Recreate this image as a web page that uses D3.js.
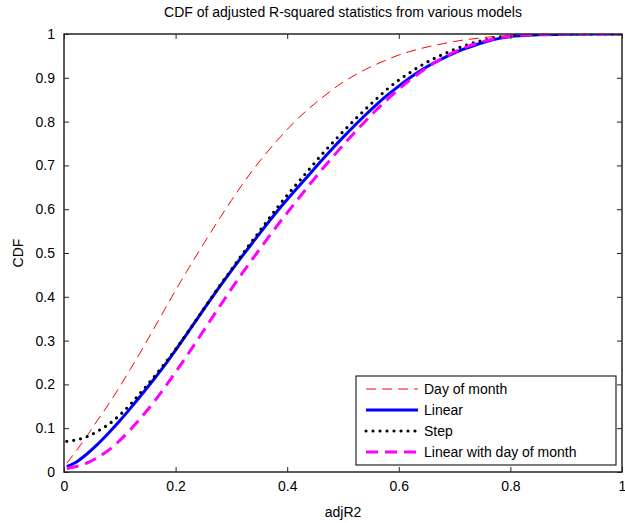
<!DOCTYPE html>
<html>
<head>
<meta charset="utf-8">
<script src="https://cdn.jsdelivr.net/npm/d3@7"></script>
<style>
	body { margin: 0; background: #fff; }
	text { font-family: 'Liberation Sans', Arial, sans-serif; }
</style>
</head>
<body>
<div id="chart"></div>
<script>
// Data
const adjR2 = [0.005, 0.02, 0.04, 0.06, 0.08, 0.1, 0.12, 0.14, 0.16, 0.18, 0.2, 0.22, 0.24, 0.26, 0.28, 0.3, 0.32, 0.34, 0.36, 0.38, 0.4, 0.42, 0.44, 0.46, 0.48, 0.5, 0.52, 0.54, 0.56, 0.58, 0.6, 0.62, 0.64, 0.66, 0.68, 0.7, 0.72, 0.74, 0.76, 0.78, 0.8, 0.85, 0.9, 0.95, 1];

const cdfDayOfMonth = [0.02, 0.045, 0.08, 0.118, 0.155, 0.195, 0.237, 0.28, 0.325, 0.37, 0.415, 0.458, 0.5, 0.541, 0.581, 0.62, 0.657, 0.692, 0.724, 0.754, 0.782, 0.808, 0.831, 0.852, 0.872, 0.89, 0.905, 0.919, 0.931, 0.942, 0.952, 0.96, 0.967, 0.973, 0.978, 0.983, 0.987, 0.99, 0.993, 0.995, 0.996, 0.998, 0.999, 1, 1];
const cdfLinear = [0.012, 0.021, 0.04, 0.063, 0.089, 0.117, 0.147, 0.178, 0.21, 0.243, 0.278, 0.315, 0.352, 0.389, 0.425, 0.46, 0.494, 0.527, 0.56, 0.592, 0.622, 0.651, 0.68, 0.709, 0.737, 0.764, 0.79, 0.815, 0.839, 0.861, 0.881, 0.9, 0.917, 0.932, 0.945, 0.957, 0.967, 0.976, 0.984, 0.99, 0.994, 0.998, 0.9995, 1, 1];
const cdfStep = [0.07, 0.073, 0.08, 0.093, 0.109, 0.13, 0.156, 0.185, 0.215, 0.247, 0.28, 0.316, 0.353, 0.39, 0.427, 0.462, 0.498, 0.532, 0.566, 0.6, 0.632, 0.662, 0.692, 0.722, 0.75, 0.777, 0.803, 0.828, 0.852, 0.875, 0.895, 0.912, 0.928, 0.942, 0.954, 0.965, 0.974, 0.982, 0.988, 0.993, 0.996, 0.999, 1, 1, 1];
const cdfLinearDay = [0.008, 0.012, 0.02, 0.033, 0.05, 0.072, 0.098, 0.127, 0.158, 0.192, 0.228, 0.265, 0.303, 0.342, 0.38, 0.418, 0.455, 0.49, 0.525, 0.559, 0.592, 0.624, 0.656, 0.687, 0.717, 0.746, 0.774, 0.801, 0.827, 0.851, 0.874, 0.895, 0.914, 0.931, 0.946, 0.959, 0.97, 0.979, 0.986, 0.991, 0.995, 0.999, 1, 1, 1];

const seriesNames = ['Day of month', 'Linear', 'Step', 'Linear with day of month'];
const xTicks = [0, 0.2, 0.4, 0.6, 0.8, 1];
const yTicks = [0, 0.1, 0.2, 0.3, 0.4, 0.5, 0.6, 0.7, 0.8, 0.9, 1];

const titleText = 'CDF of adjusted R-squared statistics from various models';
const xLabel = 'adjR2';
const yLabel = 'CDF';

// Chart dimensions and margins
const width = 625;
const height = 523;
const marginTop = 34;
const marginRight = 3;
const marginBottom = 51;
const marginLeft = 64;

const svg = d3.select('#chart')
	.append('svg')
	.attr('width', width)
	.attr('height', height)
	.attr('viewBox', [0, 0, width, height]);

const x = d3.scaleLinear().domain([0, 1]).range([marginLeft, width - marginRight]);
const y = d3.scaleLinear().domain([0, 1]).range([height - marginBottom, marginTop]);

// Line styles per series
const styles = [
	{ color: '#ff0000', width: 1, dash: '10,6', cap: 'butt' },
	{ color: '#0000ff', width: 3, dash: null, cap: 'butt' },
	{ color: '#000000', width: 3.2, dash: '0,7', cap: 'round' },
	{ color: '#ff00ff', width: 3, dash: '12,7', cap: 'butt' }
];
const allSeries = [cdfDayOfMonth, cdfLinear, cdfStep, cdfLinearDay];

svg.append('defs')
	.append('clipPath')
	.attr('id', 'plotclip')
	.append('rect')
	.attr('x', marginLeft)
	.attr('y', marginTop)
	.attr('width', width - marginLeft - marginRight)
	.attr('height', height - marginTop - marginBottom);

// Curves
const line = d3.line()
	.x((d) => x(d[0]))
	.y((d) => y(d[1]))
	.curve(d3.curveMonotoneX);

const plot = svg.append('g').attr('clip-path', 'url(#plotclip)');
allSeries.forEach(function (vals, i) {
	const s = styles[i];
	plot.append('path')
		.datum(adjR2.map((v, j) => [v, vals[j]]))
		.attr('fill', 'none')
		.attr('stroke', s.color)
		.attr('stroke-width', s.width)
		.attr('stroke-dasharray', s.dash)
		.attr('stroke-linecap', s.cap)
		.attr('stroke-linejoin', 'round')
		.attr('d', line);
});

// Axes, MATLAB style: inward ticks on all four sides
const tickLen = 5;
const axisColor = '#262626';

svg.append('g')
	.attr('transform', 'translate(0,' + (height - marginBottom) + ')')
	.call(d3.axisBottom(x).tickValues(xTicks).tickSize(-tickLen).tickPadding(9).tickFormat(d3.format('')))
	.call((g) => g.select('.domain').remove());

svg.append('g')
	.attr('transform', 'translate(0,' + marginTop + ')')
	.call(d3.axisTop(x).tickValues(xTicks).tickSize(-tickLen).tickFormat(''))
	.call((g) => g.select('.domain').remove());

svg.append('g')
	.attr('transform', 'translate(' + marginLeft + ',0)')
	.call(d3.axisLeft(y).tickValues(yTicks).tickSize(-tickLen).tickPadding(9).tickFormat(d3.format('')))
	.call((g) => g.select('.domain').remove());

svg.append('g')
	.attr('transform', 'translate(' + (width - marginRight) + ',0)')
	.call(d3.axisRight(y).tickValues(yTicks).tickSize(-tickLen).tickFormat(''))
	.call((g) => g.select('.domain').remove());

svg.selectAll('.tick line').attr('stroke', axisColor).attr('stroke-width', 1);
svg.selectAll('.tick text').attr('fill', '#000').style('font-size', '14px');

svg.append('rect')
	.attr('x', marginLeft)
	.attr('y', marginTop)
	.attr('width', width - marginLeft - marginRight)
	.attr('height', height - marginTop - marginBottom)
	.attr('fill', 'none')
	.attr('stroke', axisColor)
	.attr('stroke-width', 1.5);

// Title and axis labels
svg.append('text')
	.attr('x', (x(0) + x(1)) / 2)
	.attr('y', 17)
	.attr('text-anchor', 'middle')
	.style('font-size', '14px')
	.text(titleText);

svg.append('text')
	.attr('x', (x(0) + x(1)) / 2)
	.attr('y', 517)
	.attr('text-anchor', 'middle')
	.style('font-size', '14px')
	.text(xLabel);

svg.append('text')
	.attr('transform', 'translate(23,' + (y(0) + y(1)) / 2 + ') rotate(-90)')
	.attr('text-anchor', 'middle')
	.style('font-size', '14px')
	.text(yLabel);

// Legend
const legendX = 356;
const legendY = 376;
const legendW = 260;
const legendH = 89;
const legend = svg.append('g');

legend.append('rect')
	.attr('x', legendX)
	.attr('y', legendY)
	.attr('width', legendW)
	.attr('height', legendH)
	.attr('fill', '#fff')
	.attr('stroke', axisColor)
	.attr('stroke-width', 1.2);

seriesNames.forEach(function (name, i) {
	const s = styles[i];
	const ly = legendY + 13 + i * 21;
	legend.append('line')
		.attr('x1', legendX + 10)
		.attr('x2', legendX + 62)
		.attr('y1', ly)
		.attr('y2', ly)
		.attr('stroke', s.color)
		.attr('stroke-width', s.width)
		.attr('stroke-dasharray', s.dash)
		.attr('stroke-linecap', s.cap);
	legend.append('text')
		.attr('x', legendX + 68)
		.attr('y', ly)
		.attr('dy', '0.35em')
		.style('font-size', '14px')
		.text(name);
});
</script>
</body>
</html>
